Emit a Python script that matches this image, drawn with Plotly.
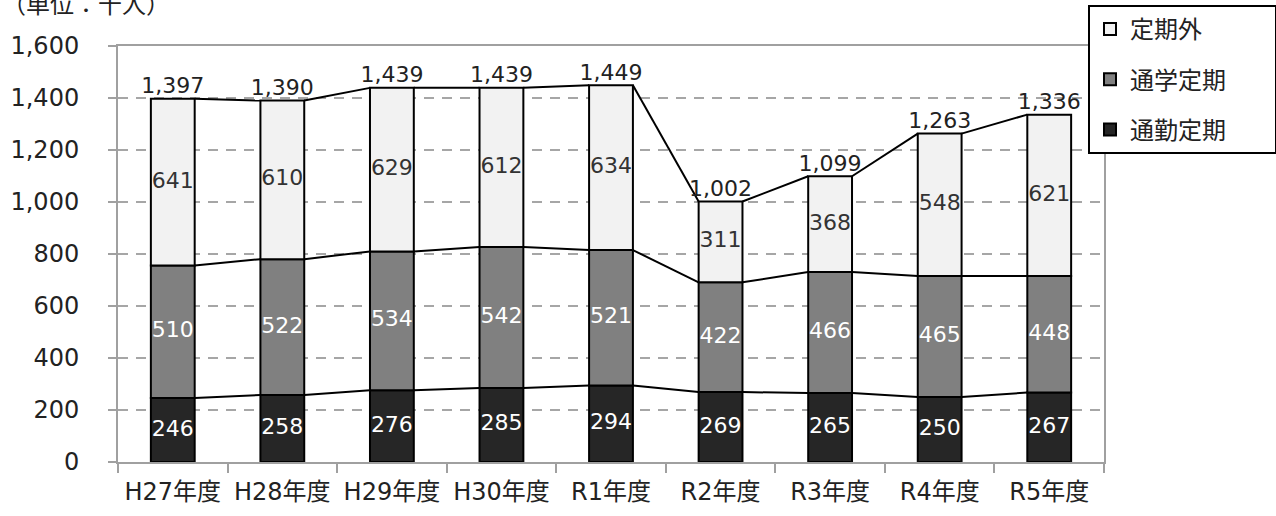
import plotly.graph_objects as go

categories = ["H27年度", "H28年度", "H29年度", "H30年度", "R1年度", "R2年度", "R3年度", "R4年度", "R5年度"]
commute = [246, 258, 276, 285, 294, 269, 265, 250, 267]      # 通勤定期
school = [510, 522, 534, 542, 521, 422, 466, 465, 448]       # 通学定期
other = [641, 610, 629, 612, 634, 311, 368, 548, 621]        # 定期外
totals = [1397, 1390, 1439, 1439, 1449, 1002, 1099, 1263, 1336]
y_ticks = [0, 200, 400, 600, 800, 1000, 1200, 1400, 1600]

FONT = "DejaVu Sans, Noto Sans CJK JP"
CJK = "Noto Sans CJK JP"
x = list(range(len(categories)))
bw = 0.4
PAD = "\u00a0" * 8

series = [
    ("通勤定期", commute, "#262626", "white", 3),
    ("通学定期", school, "#808080", "white", 2),
    ("定期外", other, "#f2f2f2", "#333333", 1),
]

fig = go.Figure()
base = [0] * len(x)
levels = []
for name, vals, color, tcol, rank in series:
    fig.add_trace(go.Bar(
        x=x, y=vals, base=base, width=bw, name=name + PAD, legendgroup=name,
        legendrank=rank,
        marker=dict(color=color, line=dict(color="black", width=2)),
        hoverinfo="skip",
    ))
    mids = [b + v / 2 for b, v in zip(base, vals)]
    fig.add_trace(go.Scatter(
        x=x, y=mids, mode="text", text=[str(v) for v in vals],
        textfont=dict(family=FONT, size=22, color=tcol),
        showlegend=False, hoverinfo="skip",
    ))
    base = [b + v for b, v in zip(base, vals)]
    levels.append(base[:])

# connecting lines between bar edges
for lv in levels:
    lx, ly = [], []
    for i in range(len(x) - 1):
        lx += [x[i] + bw / 2, x[i + 1] - bw / 2, None]
        ly += [lv[i], lv[i + 1], None]
    fig.add_trace(go.Scatter(x=lx, y=ly, mode="lines", line=dict(color="black", width=2),
                             showlegend=False, hoverinfo="skip"))

fig.add_trace(go.Scatter(
    x=x, y=totals, mode="text", text=[f"{t:,}" for t in totals],
    textposition="top center", textfont=dict(family=FONT, size=22, color="#222222"),
    showlegend=False, hoverinfo="skip",
))

fig.update_layout(
    width=1276, height=516,
    margin=dict(l=118, r=172, t=46, b=54, autoexpand=False),
    paper_bgcolor="white", plot_bgcolor="white",
    barmode="overlay",
    font=dict(family=FONT, size=22, color="#222222"),
    showlegend=True,
    legend=dict(
        x=(1088 - 118) / 986, xanchor="left",
        y=(462 - 5) / 416, yanchor="top",
        traceorder="grouped", tracegroupgap=16,
        bordercolor="black", borderwidth=2, bgcolor="white",
        font=dict(family=CJK, size=24, color="#222222"),
        itemwidth=30,
    ),
    annotations=[dict(
        text="（単位：千人）", xref="paper", yref="paper",
        x=(0 - 118) / 986, y=(462 - 22) / 416, xanchor="left", yanchor="bottom",
        showarrow=False, font=dict(family=CJK, size=24, color="#222222"),
    )],
)

fig.update_xaxes(
    range=[-0.5, len(x) - 0.5],
    tickmode="array", tickvals=x, ticktext=categories, ticks="",
    showgrid=False, zeroline=False,
    showline=True, linecolor="#a0a0a0", linewidth=2, mirror=True,
    minor=dict(tick0=-0.5, dtick=1, ticks="outside", ticklen=9, tickwidth=2, tickcolor="#a0a0a0", showgrid=False),
    tickfont=dict(family=FONT, size=24, color="#222222"),
    ticklabelstandoff=7,
)
fig.update_yaxes(
    range=[0, 1600], tickmode="array", tickvals=y_ticks,
    ticktext=[f"{v:,}" for v in y_ticks],
    ticks="outside", ticklen=8, tickwidth=2, tickcolor="#a0a0a0",
    showgrid=True, gridcolor="#a6a6a6", gridwidth=2, griddash="10px,8px",
    zeroline=False, showline=True, linecolor="#a0a0a0", linewidth=2, mirror=True,
    tickfont=dict(family=FONT, size=24, color="#222222"),
    ticklabelstandoff=24,
)

fig.write_html("out.html")
